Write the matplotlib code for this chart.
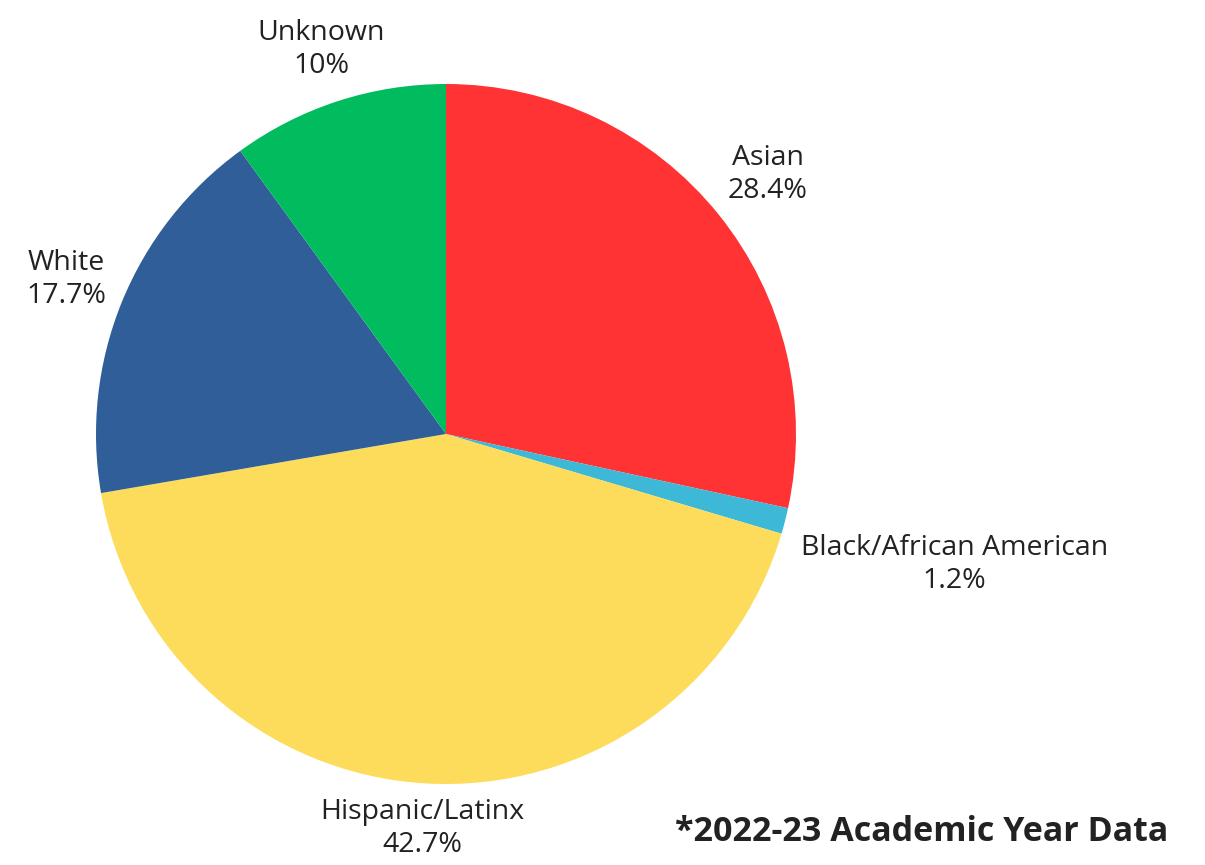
import numpy as np
import matplotlib
matplotlib.use("Agg")
import matplotlib.pyplot as plt

plt.rcParams['font.family'] = ['Open Sans', 'DejaVu Sans']

labels = ['Asian', 'Black/African American', 'Hispanic/Latinx', 'White', 'Unknown']
values = [28.4, 1.2, 42.7, 17.7, 10]
pct_text = ['28.4%', '1.2%', '42.7%', '17.7%', '10%']
colors = ['#FF3333', '#3DB9D7', '#FDDC5C', '#2F5E98', '#00BC5F']
label_dist = [1.18, 1.5, 1.13, 1.17, 1.155]

fig = plt.figure(figsize=(12.05, 8.65), dpi=100)
ax = fig.add_axes([96 / 1205, 81 / 865, 700 / 1205, 700 / 865])
wedges, _ = ax.pie(values, colors=colors, startangle=90, counterclock=False,
                   radius=1, wedgeprops={'linewidth': 0})
ax.set_xlim(-1, 1)
ax.set_ylim(-1, 1)
ax.set_aspect('equal')

for w, lab, pct, d in zip(wedges, labels, pct_text, label_dist):
    ang = np.deg2rad((w.theta1 + w.theta2) / 2)
    ax.text(d * np.cos(ang), d * np.sin(ang), lab + '\n' + pct,
            ha='center', va='center', fontsize=20.5, color='#222222',
            linespacing=1.25, clip_on=False)

fig.text(0.56, 0.038, '*2022-23 Academic Year Data', fontsize=24.5,
         fontweight='bold', color='#222222', ha='left', va='center')

fig.savefig('out.png', dpi=100)
